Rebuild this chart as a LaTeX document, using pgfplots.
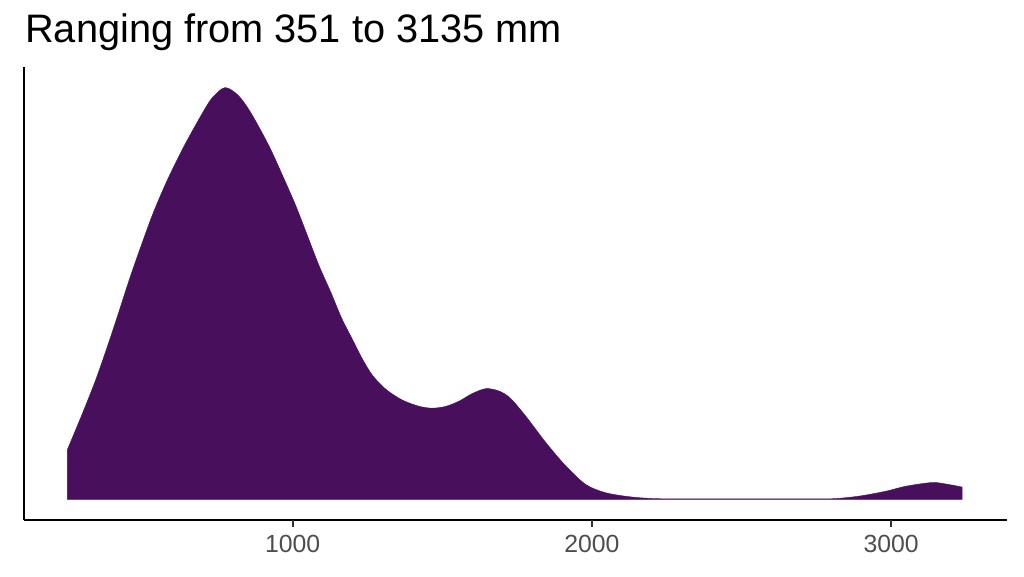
\documentclass[border=0pt]{standalone}
\usepackage{fontspec}
\setmainfont{Liberation Sans}
\usepackage{pgfplots}
\pgfplotsset{compat=1.18}
\definecolor{purp}{HTML}{480F5D}
\definecolor{ticktxt}{HTML}{4D4D4D}
\definecolor{tickcol}{HTML}{333333}
\begin{document}
\begin{tikzpicture}
\begin{axis}[
  scale only axis,
  width=737pt, height=339.75pt,
  xmin=102, xmax=3386, ymin=-0.05, ymax=1.05,
  axis lines=left,
  axis line style={-, line width=1.4pt, black},
  xtick={1000,2000,3000},
  xticklabels={1000,2000,3000},
  ytick=\empty,
  tick align=outside,
  major tick length=5pt,
  tick style={draw=tickcol, line width=1.4pt},
  xticklabel style={font=\fontsize{18.6}{20}\selectfont, text=ticktxt, yshift=-3pt},
  clip=false,
]
\coordinate (sw) at (rel axis cs:0,0);
\coordinate (nw) at (rel axis cs:0,1);
\addplot[fill=purp, draw=purp, line width=0.3pt, smooth] coordinates {
(247,0.121) (298,0.210) (342,0.291) (381,0.372) (418,0.453) (454,0.534) (493,0.615)
(534,0.696) (582,0.777) (637,0.858) (699,0.939) (732,0.976) (774,1.0) (818,0.981)
(860,0.939) (921,0.858) (972,0.777) (1011,0.712) (1050,0.639) (1089,0.566)
(1128,0.502) (1163,0.441) (1200,0.388) (1233,0.341) (1267,0.301) (1312,0.267)
(1367,0.241) (1423,0.226) (1467,0.2216) (1512,0.226) (1557,0.239) (1600,0.257)
(1646,0.269) (1690,0.263) (1727,0.246) (1779,0.202) (1846,0.138) (1913,0.081)
(1980,0.036) (2047,0.016) (2136,0.0056) (2225,0.0017) (2358,0.0012) (2559,0.0012)
(2693,0.0015) (2804,0.0017) (2893,0.008) (2983,0.020) (3049,0.032) (3138,0.041)
(3194,0.036) (3237,0.030)
} \closedcycle;
\foreach \t in {1000,2000,3000}{
  \edef\temp{\noexpand\draw[tickcol, line width=1.4pt] (axis cs:\t,-0.05) -- (axis cs:\t,-0.067);}
  \temp
}
\end{axis}
\node[anchor=base west, font=\fontsize{29.8}{34}\selectfont, inner sep=0pt] at ([shift={(0.75pt,18.5pt)}]nw) {Ranging from 351 to 3135 mm};
\pgfresetboundingbox
\path[use as bounding box] ([shift={(-18pt,-42pt)}]sw) rectangle ++(768pt,432pt);
\end{tikzpicture}
\end{document}
